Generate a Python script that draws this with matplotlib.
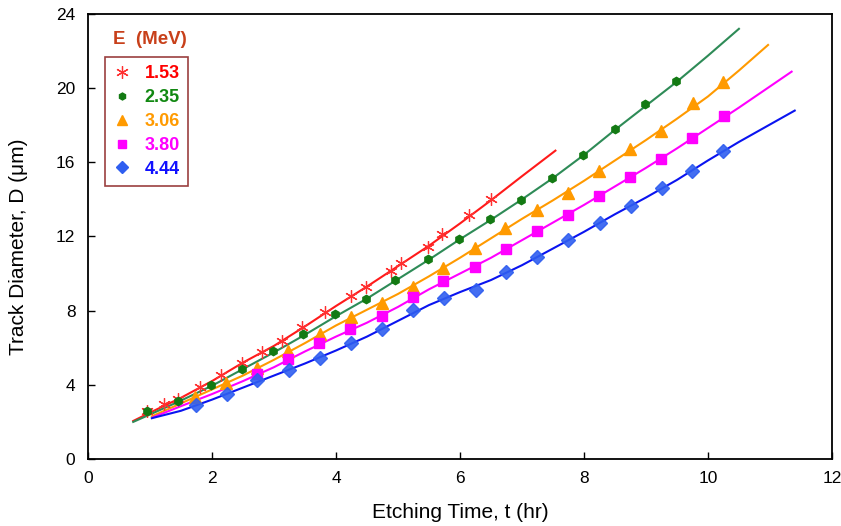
import matplotlib

matplotlib.use("Agg")
import matplotlib.pyplot as plt
from matplotlib.lines import Line2D

plt.rcParams["font.family"] = ["Liberation Sans", "DejaVu Sans"]

# ---------------------------------------------------------------------------
# Data (etching time in hr, track diameter in um)
# ---------------------------------------------------------------------------

energies = ["1.53", "2.35", "3.06", "3.80", "4.44"]

t_153 = [0.96, 1.22, 1.46, 1.80, 2.14, 2.48, 2.81, 3.13, 3.46, 3.83, 4.25, 4.49, 4.89, 5.05, 5.48, 5.71, 6.14, 6.50]
d_153 = [2.59, 2.95, 3.24, 3.90, 4.53, 5.19, 5.79, 6.36, 7.14, 7.94, 8.79, 9.29, 10.14, 10.56, 11.45, 12.14, 13.16, 14.01]

t_235 = [0.96, 1.46, 1.98, 2.48, 2.98, 3.47, 3.98, 4.48, 4.96, 5.49, 5.99, 6.48, 6.99, 7.48, 7.98, 8.50, 8.99, 9.48]
d_235 = [2.59, 3.11, 4.01, 4.83, 5.83, 6.72, 7.81, 8.63, 9.68, 10.77, 11.85, 12.93, 13.97, 15.14, 16.37, 17.82, 19.13, 20.36]

t_306 = [1.73, 2.23, 2.72, 3.23, 3.74, 4.25, 4.74, 5.25, 5.73, 6.24, 6.73, 7.24, 7.75, 8.25, 8.74, 9.25, 9.76, 10.25]
d_306 = [3.37, 4.10, 4.89, 5.81, 6.74, 7.68, 8.43, 9.29, 10.32, 11.36, 12.44, 13.43, 14.36, 15.55, 16.70, 17.69, 19.19, 20.35]

t_380 = [2.72, 3.23, 3.73, 4.23, 4.74, 5.25, 5.73, 6.24, 6.74, 7.24, 7.75, 8.25, 8.75, 9.25, 9.75, 10.26]
d_380 = [4.58, 5.38, 6.24, 7.01, 7.73, 8.72, 9.60, 10.37, 11.33, 12.31, 13.16, 14.19, 15.19, 16.17, 17.30, 18.48]

t_444 = [1.74, 2.24, 2.72, 3.24, 3.74, 4.24, 4.75, 5.25, 5.75, 6.26, 6.74, 7.25, 7.75, 8.26, 8.76, 9.26, 9.75, 10.25]
d_444 = [2.89, 3.52, 4.28, 4.80, 5.45, 6.24, 7.00, 8.04, 8.67, 9.12, 10.10, 10.88, 11.81, 12.71, 13.65, 14.63, 15.53, 16.63]

# fitted curves: knots
curve_t_153 = [0.73, 1.0, 1.5, 2.0, 2.5, 3.0, 3.5, 4.0, 4.5, 5.0, 5.5, 6.0, 6.5, 7.0, 7.54]
curve_d_153 = [2.05, 2.5, 3.3, 4.2, 5.2, 6.1, 7.15, 8.25, 9.3, 10.4, 11.5, 12.7, 13.95, 15.25, 16.63]

curve_t_235 = [0.73, 1.0, 1.5, 2.0, 2.5, 3.0, 3.5, 4.0, 4.5, 5.0, 5.5, 6.0, 6.5, 7.0, 7.5, 8.0, 8.5, 9.0, 9.5, 10.0, 10.5]
curve_d_235 = [2.0, 2.4, 3.15, 3.95, 4.85, 5.75, 6.7, 7.7, 8.65, 9.7, 10.75, 11.85, 12.9, 14.0, 15.15, 16.4, 17.75, 19.05, 20.35, 21.75, 23.2]

curve_t_306 = [1.03, 1.5, 2.0, 2.5, 3.0, 3.5, 4.0, 4.5, 5.0, 5.5, 6.0, 6.5, 7.0, 7.5, 8.0, 8.5, 9.0, 9.5, 10.0, 10.5, 10.97]
curve_d_306 = [2.3, 3.0, 3.75, 4.5, 5.35, 6.25, 7.2, 8.05, 8.9, 9.85, 10.85, 11.9, 12.95, 13.95, 15.0, 16.1, 17.2, 18.35, 19.55, 20.95, 22.33]

curve_t_380 = [1.05, 1.5, 2.0, 2.5, 3.0, 3.5, 4.0, 4.5, 5.0, 5.5, 6.0, 6.5, 7.0, 7.5, 8.0, 8.5, 9.0, 9.5, 10.0, 10.5, 11.35]
curve_d_380 = [2.25, 2.85, 3.5, 4.2, 4.95, 5.8, 6.6, 7.35, 8.2, 9.15, 10.0, 10.85, 11.8, 12.75, 13.7, 14.7, 15.7, 16.75, 17.85, 18.95, 20.89]

curve_t_444 = [1.03, 1.5, 2.0, 2.5, 3.0, 3.5, 4.0, 4.5, 5.0, 5.5, 6.0, 6.5, 7.0, 7.5, 8.0, 8.5, 9.0, 9.5, 10.0, 10.5, 11.4]
curve_d_444 = [2.2, 2.6, 3.2, 3.85, 4.5, 5.15, 5.85, 6.6, 7.45, 8.3, 9.0, 9.65, 10.45, 11.35, 12.25, 13.2, 14.1, 15.05, 16.1, 17.1, 18.79]

series = [
    (t_153, d_153, curve_t_153, curve_d_153),
    (t_235, d_235, curve_t_235, curve_d_235),
    (t_306, d_306, curve_t_306, curve_d_306),
    (t_380, d_380, curve_t_380, curve_d_380),
    (t_444, d_444, curve_t_444, curve_d_444),
]

# ---------------------------------------------------------------------------
# Styles
# ---------------------------------------------------------------------------

line_colors = ["#ff1a1a", "#2e8b57", "#ff9a00", "#ff00ff", "#0a14f0"]
marker_colors = ["#ff3030", "#137a13", "#ff9a00", "#ff00ff", "#2f5ef0"]
text_colors = ["#ff0000", "#118811", "#ff9a00", "#ff00ff", "#1010ff"]
markers = [(6, 2, 0), "h", "^", "s", "D"]
msizes = [9, 6, 8, 7, 7]

fig = plt.figure(figsize=(8.41, 5.26), dpi=100)
ax = fig.add_axes([0.1046, 0.1274, 0.8846, 0.846])

for (tm, dm, tc, dc), lc, mc, mk, ms in zip(series, line_colors, marker_colors, markers, msizes):
    ax.plot(tc, dc, color=lc, lw=1.5, zorder=2)
    if mk == (6, 2, 0):
        ax.plot(tm, dm, ls="none", marker=mk, ms=ms, mec=mc, mew=0.9, zorder=3)
    else:
        ax.plot(tm, dm, ls="none", marker=mk, ms=ms, mfc=mc, mec=mc, alpha=0.9 if mk == "D" else 1.0, zorder=3)

ax.set_xlim(0, 12)
ax.set_ylim(0, 24)
ax.set_xticks(range(0, 13, 2))
ax.set_yticks(range(0, 25, 4))
ax.tick_params(direction="in", length=5, width=1, labelsize=12.5, pad=9)
for sp in ax.spines.values():
    sp.set_linewidth(1.3)

ax.set_xlabel("Etching Time, t (hr)", fontsize=15, labelpad=12)
ax.set_ylabel("Track Diameter, D (\u03bcm)", fontsize=15)
ax.yaxis.set_label_coords(-0.08, 0.476)

# legend (title drawn above the frame like the original)
handles = []
for mk, mc, ms in zip(markers, marker_colors, msizes):
    if mk == (6, 2, 0):
        handles.append(Line2D([], [], ls="none", marker=mk, ms=ms, mec=mc, mew=0.9))
    else:
        handles.append(Line2D([], [], ls="none", marker=mk, ms=ms - 1, mfc=mc, mec=mc))
leg = ax.legend(
    handles, energies,
    loc="upper left", bbox_to_anchor=(0.023, 0.903), borderaxespad=0,
    frameon=True, fancybox=False, edgecolor="#9b4040", framealpha=1,
    handlelength=1.0, handletextpad=0.75, labelspacing=0.38,
    borderpad=0.45, prop={"size": 13, "weight": "bold"},
)
leg.get_frame().set_linewidth(1.2)
for txt, c in zip(leg.get_texts(), text_colors):
    txt.set_color(c)

ax.text(0.083, 0.942, "E  (MeV)", transform=ax.transAxes, ha="center", va="center",
        fontsize=13.5, fontweight="bold", color="#c8401a")

fig.savefig("out.png", dpi=100)
